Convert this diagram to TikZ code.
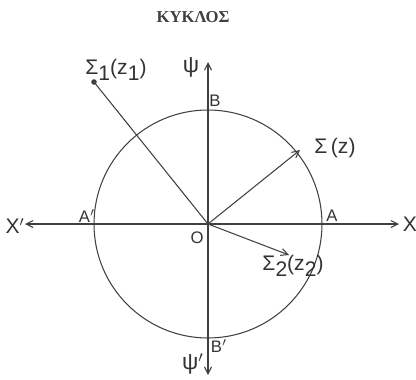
\documentclass[tikz,border=0pt]{standalone}
\usepackage{fontspec}
\setmainfont{Liberation Sans}
\newfontfamily\titlefont{Liberation Serif}
\usetikzlibrary{arrows.meta}
\newcommand{\sbx}[1]{\raisebox{-0.5ex}{#1}}
\begin{document}
\begin{tikzpicture}[x={(0.02cm,0)},y={(0,-0.02cm)},
  line/.style={draw=black!75,line width=0.6pt},
  arr/.style={line,-{Straight Barb[length=4pt,width=4pt]}},
  lbl/.style={text=black!80,font=\fontsize{12}{14}\selectfont,inner sep=0pt},
  ptlbl/.style={text=black!80,font=\fontsize{9.5}{11}\selectfont,inner sep=0pt}]
\useasboundingbox (0,0) rectangle (416,379);
\coordinate (O) at (208,224);
\node[font=\titlefont\bfseries\fontsize{9.5}{11}\selectfont,text=black!75,inner sep=0pt] (title) at (193,17) {ΚΥΚΛΟΣ};
% circle
\draw[line] (O) circle[radius=114];
% axes
\coordinate (xl) at (25,224);
\coordinate (xr) at (399,224);
\coordinate (yt) at (208,62);
\coordinate (yb) at (208,375);
\draw[arr] (O) -- (xr);
\draw[arr] (O) -- (xl);
\draw[arr] (O) -- (yt);
\draw[arr] (O) -- (yb);
% vectors
\coordinate (s) at (300,150);
\coordinate (s2) at (289,255);
\coordinate (s1) at (94,82);
\draw[arr] (O) -- (s);
\draw[arr] (O) -- (s2);
\draw[line] (O) -- (s1);
\fill[black!75] (s1) circle[radius=2.8];
% labels
\node[lbl] (X) at (410,224) {X};
\node[lbl] (Xp) at (15,226) {X$'$};
\node[lbl,font=\fontsize{13}{15}\selectfont] (psi) at (191,67) {ψ};
\node[lbl,font=\fontsize{13}{15}\selectfont,anchor=east] (psip) at (204,364) {ψ$'$};
\node[ptlbl] (A) at (332,216) {A};
\node[ptlbl] (Ap) at (87,216) {A$'$};
\node[ptlbl] (B) at (215,101) {B};
\node[ptlbl] (Bp) at (219,346) {B$'$};
\node[ptlbl] (Olbl) at (197,238) {O};
\node[lbl] (Sz) at (335,148) {Σ\,(z)};
\node[lbl] (S1) at (116,70) {Σ\sbx{1}(z\sbx{1})};
\node[lbl] (S2) at (293,266) {Σ\sbx{2}(z\sbx{2})};
\end{tikzpicture}
\end{document}
